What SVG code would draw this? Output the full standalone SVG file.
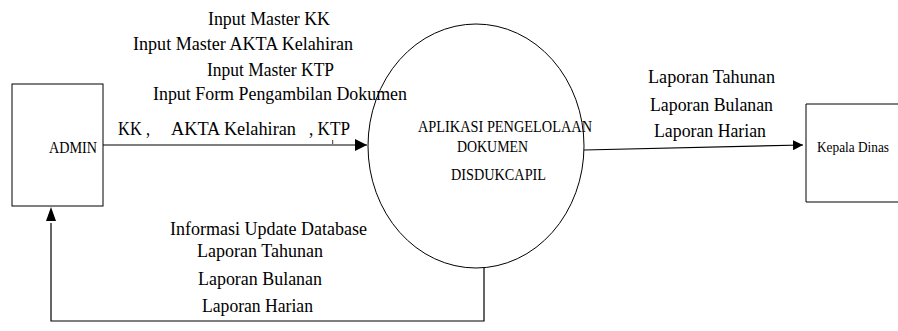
<svg xmlns="http://www.w3.org/2000/svg" width="898" height="331" viewBox="0 0 898 331">
<style>
  text { font-family: "Liberation Serif", "Times New Roman", serif; fill: #000; }
  .lbl { font-size: 19px; }
  .node { font-size: 16px; }
  .shape { fill: #fff; stroke: #000; stroke-width: 1; }
  .conn { fill: none; stroke: #000; stroke-width: 1.2; }
</style>
<defs>
  <marker id="arr" viewBox="0 0 10 10" refX="10" refY="5" markerWidth="10" markerHeight="10" markerUnits="userSpaceOnUse" orient="auto">
    <path d="M0,0 L10,5 L0,10 z" fill="#000"/>
  </marker>
  <marker id="arrL" viewBox="0 0 10 10" refX="10" refY="5" markerWidth="14" markerHeight="12" markerUnits="userSpaceOnUse" orient="auto">
    <path d="M0,0 L10,5 L0,10 z" fill="#000"/>
  </marker>
</defs>
<rect width="898" height="331" fill="#fff"/>

<g id="connectors">
  <line class="conn" x1="103" y1="145" x2="367" y2="145" marker-end="url(#arrL)"/>
  <line x1="332.7" y1="140" x2="332.7" y2="144" stroke="#000" stroke-width="0.8"/>
  <line class="conn" x1="584" y1="150" x2="803" y2="145" marker-end="url(#arr)"/>
  <polyline class="conn" points="484,268 484,321 51,321 51,223"/>
  <path d="M51,207 L56,221 L46,221 z" fill="#000"/>
</g>

<g id="admin">
  <rect class="shape" x="12" y="84" width="91" height="122"/>
  <text class="node" x="49" y="153" textLength="48" lengthAdjust="spacingAndGlyphs">ADMIN</text>
</g>

<g id="aplikasi">
  <ellipse class="shape" cx="476" cy="146" rx="108" ry="122"/>
  <text class="node" x="418" y="132" textLength="174" lengthAdjust="spacingAndGlyphs">APLIKASI PENGELOLAAN</text>
  <text class="node" x="457" y="152" textLength="71" lengthAdjust="spacingAndGlyphs">DOKUMEN</text>
  <text class="node" x="451" y="180" textLength="95" lengthAdjust="spacingAndGlyphs">DISDUKCAPIL</text>
</g>

<g id="kepala">
  <path class="shape" d="M898,104 L806,104 L806,202 L898,202"/>
  <text x="817" y="152" font-size="15" textLength="72" lengthAdjust="spacingAndGlyphs">Kepala Dinas</text>
</g>

<g id="labels-in">
  <text class="lbl" x="208" y="25" textLength="122" lengthAdjust="spacingAndGlyphs">Input Master KK</text>
  <text class="lbl" x="133" y="50" textLength="220" lengthAdjust="spacingAndGlyphs">Input Master AKTA Kelahiran</text>
  <text class="lbl" x="207" y="76" textLength="127" lengthAdjust="spacingAndGlyphs">Input Master KTP</text>
  <text class="lbl" x="153" y="100" textLength="254" lengthAdjust="spacingAndGlyphs">Input Form Pengambilan Dokumen</text>
  <text class="lbl" x="118" y="135" textLength="32" lengthAdjust="spacingAndGlyphs">KK ,</text>
  <text class="lbl" x="171" y="135" textLength="125" lengthAdjust="spacingAndGlyphs">AKTA Kelahiran</text>
  <text class="lbl" x="309" y="135" textLength="41" lengthAdjust="spacingAndGlyphs">, KTP</text>
</g>

<g id="labels-out">
  <text class="lbl" x="648" y="83" textLength="127" lengthAdjust="spacingAndGlyphs">Laporan Tahunan</text>
  <text class="lbl" x="650" y="111" textLength="123" lengthAdjust="spacingAndGlyphs">Laporan Bulanan</text>
  <text class="lbl" x="654" y="137" textLength="112" lengthAdjust="spacingAndGlyphs">Laporan Harian</text>
</g>

<g id="labels-back">
  <text class="lbl" x="170" y="235" textLength="197" lengthAdjust="spacingAndGlyphs">Informasi Update Database</text>
  <text class="lbl" x="197" y="257" textLength="126" lengthAdjust="spacingAndGlyphs">Laporan Tahunan</text>
  <text class="lbl" x="198" y="285" textLength="124" lengthAdjust="spacingAndGlyphs">Laporan Bulanan</text>
  <text class="lbl" x="202" y="312" textLength="111" lengthAdjust="spacingAndGlyphs">Laporan Harian</text>
</g>
</svg>
